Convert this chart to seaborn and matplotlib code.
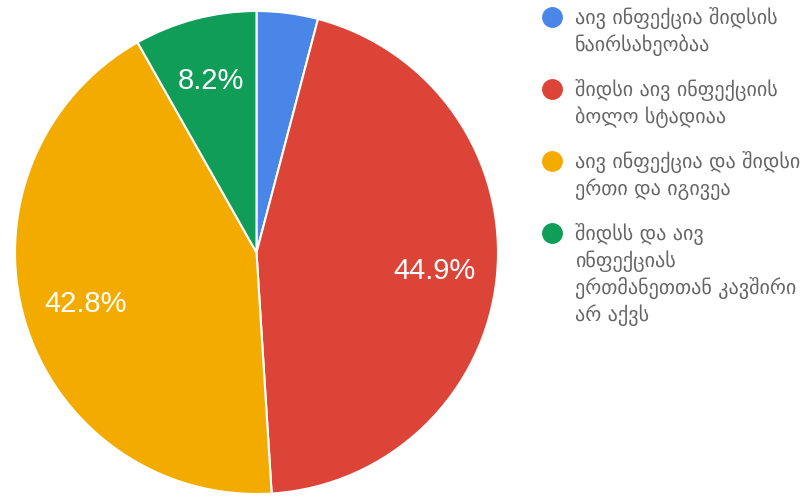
import matplotlib
matplotlib.use("Agg")
import matplotlib.pyplot as plt
from matplotlib.lines import Line2D
import seaborn as sns

# ---------------- data ----------------
answers = [
    "აივ ინფექცია შიდსის\nნაირსახეობაა",
    "შიდსი აივ ინფექციის\nბოლო სტადიაა",
    "აივ ინფექცია და შიდსი\nერთი და იგივეა",
    "შიდსს და აივ\nინფექციას\nერთმანეთთან კავშირი\nარ აქვს",
]
shares = [4.1, 44.9, 42.8, 8.2]
slice_colors = ["#4a86e8", "#db4437", "#f4ab00", "#0f9d58"]

sns.set_style("white")
plt.rcParams["font.family"] = ["DejaVu Sans"]

palette = sns.color_palette(slice_colors)

W, H = 809, 502
fig = plt.figure(figsize=(W / 100, H / 100), dpi=100)
ax = fig.add_axes([15 / W, 7 / H, 483 / W, 483 / H])

wedges, _, autotexts = ax.pie(
    shares,
    colors=palette,
    startangle=90,
    counterclock=False,
    autopct=lambda p: f"{p:.1f}%" if p >= 5 else "",
    pctdistance=0.74,
    wedgeprops=dict(edgecolor="white", linewidth=1.5),
    textprops=dict(color="white", fontsize=21, family="Liberation Sans"),
)
ax.set_xlim(-1.0, 1.0)
ax.set_ylim(-1.0, 1.0)
ax.set_aspect("equal")

# legend, drawn by hand so the dot sits on the first line
fs = 14.5
line_px = 27
y_px = 18
for label, c in zip(answers, slice_colors):
    fig.add_artist(Line2D([552 / W], [1 - y_px / H], marker="o", markersize=14,
                          markerfacecolor=c, markeredgecolor=c,
                          transform=fig.transFigure))
    for i, line in enumerate(label.split("\n")):
        fig.text(575 / W, 1 - (y_px + i * line_px) / H, line,
                 fontsize=fs, color="#666666", va="center", ha="left")
    y_px += (label.count("\n") + 1) * line_px + 18

fig.savefig("out.png", dpi=100)
